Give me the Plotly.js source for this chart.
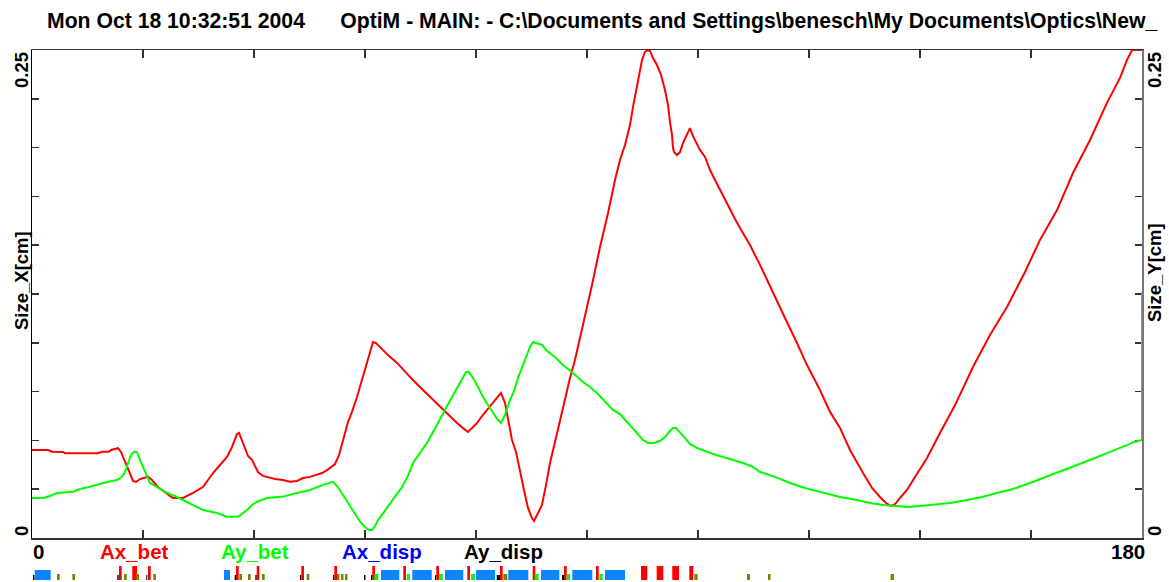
<!DOCTYPE html>
<html><head><meta charset="utf-8">
<script src="https://cdn.plot.ly/plotly-3.0.1.min.js"></script>
<style>html,body{margin:0;padding:0;background:#fff;overflow:hidden}#chart{width:1169px;height:582px}</style>
</head><body><div id="chart"></div>
<script>
// ---- data ----
const sX = [0,2.59,3.24,5.03,5.35,10.70,11.35,12.49,12.81,13.95,14.43,15.41,16.38,16.86,17.51,18.81,19.46,20.43,21.41,22.38,22.86,24.49,26.11,26.92,27.73,28.54,29.35,30.49,31.62,32.43,33.24,33.57,34.22,35.03,35.68,36.65,37.46,38.11,39.41,40.70,41.84,42.97,43.95,45.08,46.22,47.03,47.84,48.49,49.14,49.78,50.27,50.76,51.24,51.89,52.70,53.19,53.68,54.49,55.30,55.78,56.43,57.73,59.19,60.49,61.78,63.24,64.54,66.16,67.30,68.92,69.89,70.70,71.35,72.16,72.97,73.78,75.08,76.05,76.70,77.19,77.84,78.49,79.14,79.78,80.43,81.08,81.41,81.89,82.70,83.35,84.00,84.81,85.62,86.43,87.24,88.05,88.86,89.68,90.81,92.11,93.41,94.54,95.35,96.16,96.97,97.46,97.95,98.43,98.92,99.41,99.89,100.22,100.70,101.35,102.00,102.65,103.14,103.46,103.78,103.95,104.11,104.59,105.08,105.57,106.22,106.70,107.19,107.68,108.32,109.14,109.95,110.76,111.57,112.38,113.19,114.00,114.81,116.43,118.05,120.16,122.11,124.05,125.68,127.78,129.41,131.03,132.65,134.76,136.22,137.51,138.49,139.30,139.95,140.76,141.89,143.19,145.14,147.24,149.68,152.59,155.35,158.11,161.03,163.46,166.22,168.81,171.57,174.32,176.43,177.57,178.38,180.00];
const sizeX = [.0451,.0451,.0442,.0441,.0434,.0434,.0442,.0442,.0451,.0460,.0441,.0364,.0292,.0287,.0302,.0314,.0297,.0261,.0236,.0215,.0205,.0205,.0231,.0246,.0261,.0297,.0333,.0374,.0415,.0466,.0533,.0538,.0482,.0420,.0400,.0338,.0318,.0313,.0302,.0297,.0288,.0292,.0307,.0313,.0323,.0333,.0348,.0364,.0379,.0425,.0476,.0538,.0594,.0646,.0722,.0774,.0835,.0922,.1004,.0999,.0978,.0937,.0897,.0850,.0809,.0763,.0722,.0676,.0640,.0589,.0563,.0543,.0563,.0589,.0625,.0656,.0707,.0743,.0692,.0615,.0502,.0441,.0333,.0246,.0154,.0102,.0087,.0118,.0169,.0271,.0384,.0492,.0605,.0707,.0820,.0912,.1025,.1127,.1296,.1491,.1665,.1834,.1937,.2013,.2116,.2208,.2285,.2372,.2449,.2490,.2500,.2495,.2459,.2423,.2372,.2295,.2218,.2131,.2065,.1998,.1977,.1962,.1977,.2024,.2065,.2100,.2059,.2029,.1988,.1952,.1885,.1834,.1783,.1732,.1680,.1634,.1588,.1501,.1399,.1255,.1127,.0999,.0886,.0758,.0646,.0564,.0451,.0333,.0256,.0210,.0179,.0164,.0174,.0205,.0246,.0313,.0410,.0538,.0681,.0876,.1040,.1183,.1363,.1527,.1680,.1870,.2039,.2229,.2357,.2449,.2500,.2500];

const sY = [0,1.78,2.92,4.05,6.65,7.78,9.41,11.51,13.78,14.59,15.08,15.57,16.05,16.54,17.03,17.51,18.00,18.65,19.14,20.27,21.89,23.51,24.49,26.11,27.73,30.00,31.62,33.41,34.05,34.86,35.68,36.49,38.11,40.70,42.97,45.08,47.19,48.81,49.62,50.43,51.24,51.89,52.70,53.35,54.00,54.65,55.14,55.62,56.11,57.08,58.05,59.03,60.00,60.97,61.78,62.92,64.05,65.03,66.16,67.14,68.11,69.08,69.89,70.38,70.86,71.51,72.32,73.14,73.95,74.76,75.41,76.05,76.70,77.51,78.16,78.81,79.46,80.11,80.76,81.24,81.89,82.70,83.35,84.00,84.97,86.11,87.73,89.35,90.49,91.62,93.24,94.22,95.35,96.32,97.30,98.27,99.08,99.89,100.86,101.84,102.65,103.30,103.95,104.43,105.08,105.89,106.70,107.84,109.14,110.43,112.05,113.68,115.30,116.92,118.05,120.49,122.92,125.35,128.27,131.03,133.78,135.89,138.00,140.27,142.05,144.00,146.11,148.86,151.62,154.05,156.49,159.08,161.84,163.95,166.22,168.32,170.43,172.38,174.32,176.11,177.57,178.70,179.70,180.00,180.00];
const sizeY = [.0205,.0205,.0215,.0231,.0237,.0251,.0263,.0282,.0297,.0313,.0338,.0384,.0425,.0442,.0441,.0400,.0364,.0318,.0282,.0261,.0231,.0210,.0195,.0169,.0143,.0128,.0109,.0109,.0123,.0143,.0169,.0186,.0205,.0212,.0231,.0246,.0272,.0288,.0261,.0220,.0179,.0143,.0108,.0077,.0056,.0041,.0041,.0061,.0092,.0133,.0179,.0220,.0261,.0318,.0384,.0435,.0487,.0543,.0605,.0666,.0722,.0779,.0825,.0850,.0850,.0820,.0774,.0722,.0681,.0640,.0610,.0589,.0630,.0707,.0753,.0820,.0871,.0922,.0979,.1004,.0999,.0989,.0963,.0948,.0922,.0886,.0845,.0799,.0774,.0743,.0692,.0656,.0635,.0599,.0564,.0528,.0502,.0487,.0487,.0497,.0517,.0543,.0564,.0564,.0543,.0512,.0482,.0461,.0446,.0430,.0415,.0400,.0384,.0364,.0338,.0313,.0282,.0256,.0231,.0210,.0195,.0179,.0169,.0164,.0159,.0164,.0169,.0179,.0195,.0210,.0231,.0251,.0282,.0307,.0333,.0359,.0384,.0410,.0435,.0456,.0476,.0492,.0502,.0502,.1260];

const xTickVals = [0,18,36,54,72,90,108,126,144,162,180];
const yTickVals = [0,0.025,0.05,0.075,0.1,0.125,0.15,0.175,0.2,0.225,0.25];
const yTickLabels = ['0','0.25'];
const xTickLabels = ['0','180'];
const legendNames = ['Ax_bet','Ay_bet','Ax_disp','Ay_disp'];
const legendColors = ['#ff0000','#00ff00','#0000ff','#000000'];
const axisTitleX = 'Size_X[cm]';
const axisTitleY = 'Size_Y[cm]';
const titleText = 'Mon Oct 18 10:32:51 2004\u00a0\u00a0\u00a0\u00a0\u00a0\u00a0OptiM - MAIN: - C:\\Documents and Settings\\benesch\\My Documents\\Optics\\New_';

// lattice elements: start, end (same units as s), type
const elemStart = [0.16,0.44,4.05,6.54,13.83,14.11,14.92,16.26,16.91,18.53,18.81,19.67,31.14,32.87,33.08,33.62,35.03,36.21,36.44,37.30,43.46,43.67,44.54,48.81,49.02,49.46,50.11,50.76,53.84,54.97,55.18,55.51,56.59,60.21,60.76,61.67,65.35,65.56,66.00,66.97,70.59,71.19,72.00,75.36,75.89,76.43,77.24,81.19,81.51,82.54,85.95,86.27,86.71,87.62,91.46,92.00,92.92,98.76,101.30,103.83,106.59,107.40,115.95,119.35,139.23];
const elemEnd   = [0.40,3.03,4.49,6.97,14.06,14.55,15.36,17.03,17.35,18.70,19.25,20.11,32.11,33.08,33.52,34.05,35.46,36.44,36.86,37.73,43.67,44.11,44.97,49.02,49.46,49.86,50.51,51.16,54.08,55.18,55.62,56.16,59.56,60.65,61.30,64.82,65.56,66.00,66.60,69.94,71.03,71.84,75.08,75.89,76.33,77.08,80.48,81.62,82.16,85.51,86.27,86.71,87.24,90.86,91.89,92.54,96.16,99.78,102.38,104.92,107.24,107.95,116.43,119.76,139.78];
const elemType  = ['K','B','O','O','K','Q','O','Q','O','K','Q','O','B','K','Q','O','O','K','Q','O','K','Q','O','K','Q','O','O','O','K','K','Q','G','B','Q','G','B','K','Q','G','B','Q','G','B','K','Q','O','B','Q','G','B','K','Q','G','B','Q','G','B','Q','Q','Q','Q','O','O','O','O'];

// ---- styling ----
const elemStyle = {
  B:{color:'#0a84ff', top:570},
  Q:{color:'#ff0000', top:566},
  O:{color:'#808000', top:574},
  K:{color:'#000000', top:575},
  G:{color:'#00ff00', top:574}
};
const W=1169,H=582, L=32, R=27, T=50, B=44;
const plotH = H-T-B, plotW = W-L-R;
const py2paper = py => (H-B-py)/plotH;
const px2paper = px => (px-L)/plotW;

const shapes = elemStart.map((s0,i)=>{
  const st = elemStyle[elemType[i]];
  return {type:'rect', xref:'x', yref:'paper', x0:s0, x1:elemEnd[i],
    y0:py2paper(580), y1:py2paper(st.top), fillcolor:st.color, line:{width:0}, layer:'above'};
});

const bold = {family:'"Liberation Sans", Arial, sans-serif', color:'#000', weight:700};
const ann = [];
ann.push({text:titleText, xref:'paper', yref:'paper', x:px2paper(45), y:py2paper(21), xanchor:'left', yanchor:'middle', showarrow:false, font:Object.assign({}, bold, {size:21.2})});
// bottom labels
const legendX = [134,255,382,503];
legendNames.forEach((n,i)=>ann.push({text:n, xref:'paper', yref:'paper', x:px2paper(legendX[i]), y:py2paper(551.5), xanchor:'center', yanchor:'middle', showarrow:false, font:Object.assign({}, bold, {size:20.5, color:legendColors[i]})}));
ann.push({text:xTickLabels[0], xref:'paper', yref:'paper', x:px2paper(31), y:py2paper(551.5), xanchor:'left', yanchor:'middle', showarrow:false, font:Object.assign({}, bold, {size:20.5})});
ann.push({text:xTickLabels[1], xref:'paper', yref:'paper', x:px2paper(1147), y:py2paper(551.5), xanchor:'right', yanchor:'middle', showarrow:false, font:Object.assign({}, bold, {size:20.5})});
// vertical labels
[[21,'left'],[1154,'right']].forEach(([px,side])=>{
  ann.push({text:yTickLabels[1], xref:'paper', yref:'paper', x:px2paper(px), y:py2paper(50), textangle:-90, xanchor:'center', yanchor:'top', showarrow:false, font:Object.assign({}, bold, {size:18.5})});
  ann.push({text:yTickLabels[0], xref:'paper', yref:'paper', x:px2paper(px), y:py2paper(538), textangle:-90, xanchor:'center', yanchor:'bottom', showarrow:false, font:Object.assign({}, bold, {size:18.5})});
  ann.push({text: side==='left'?axisTitleX:axisTitleY, xref:'paper', yref:'paper', x:px2paper(px), y:py2paper(side==='left'?281:272), textangle:-90, xanchor:'center', yanchor:'middle', showarrow:false, font:Object.assign({}, bold, {size:18.5})});
});

const traces = [
  {x:sX, y:sizeX, type:'scatter', mode:'lines', name:legendNames[0], line:{color:'#ff0000', width:2}, xaxis:'x', yaxis:'y'},
  {x:sY, y:sizeY, type:'scatter', mode:'lines', name:legendNames[1], line:{color:'#00ff00', width:2}, xaxis:'x', yaxis:'y2'}
];

const axCommon = {showgrid:false, zeroline:false, ticks:'inside', ticklen:7, tickwidth:1.5, tickcolor:'#333', showline:true, linecolor:'#333', linewidth:1.5, showticklabels:false, fixedrange:true, layer:'below traces'};
const layout = {
  width:W, height:H, margin:{l:L, r:R, t:T, b:B, pad:0},
  paper_bgcolor:'#fff', plot_bgcolor:'#fff', showlegend:false,
  xaxis:Object.assign({}, axCommon, {range:[0,180], tickvals:xTickVals, mirror:'ticks', ticklen:8}),
  yaxis:Object.assign({}, axCommon, {range:[0,0.25], tickvals:yTickVals, linecolor:'#000'}),
  yaxis2:Object.assign({}, axCommon, {range:[0,0.25], tickvals:yTickVals, overlaying:'y', side:'right', linecolor:'#777'}),
  shapes:shapes, annotations:ann
};
Plotly.newPlot('chart', traces, layout, {displayModeBar:false, staticPlot:true});
</script></body></html>
